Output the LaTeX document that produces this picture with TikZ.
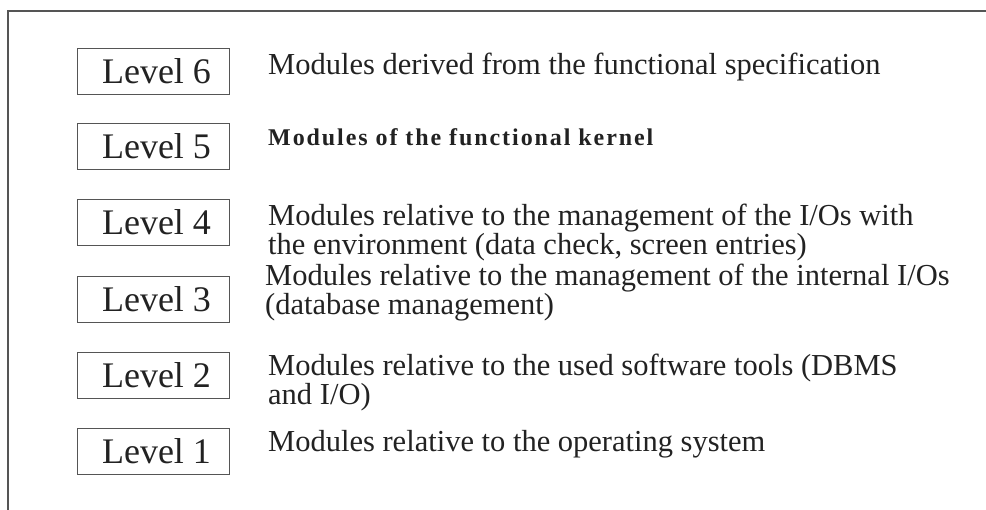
\documentclass[tikz,border=0pt]{standalone}
\usepackage{fontspec}
\setmainfont{Liberation Serif}
\newfontfamily\kernfont[LetterSpace=8]{Liberation Serif Bold}
\definecolor{ink}{HTML}{222222}
\definecolor{rule}{HTML}{555555}
\tikzset{
  lvlbox/.style={draw=rule, line width=0.9pt, minimum width=152pt, minimum height=46pt,
    inner sep=0pt, text=ink, font=\fontsize{36}{40}\selectfont},
  desc/.style={anchor=base west, inner sep=0pt, text=ink,
    font=\fontsize{30.5}{27.5}\selectfont},
  frameline/.style={draw=rule, line width=1.2pt}
}
\begin{document}
\begin{tikzpicture}[x=1pt,y=-1pt]
\useasboundingbox (0,0) rectangle (986,510);
\coordinate (fb) at (8,510);
\coordinate (fc) at (8,11);
\coordinate (fr) at (986,11);
\draw[frameline] (fb) -- (fc) -- (fr);

\node[lvlbox] (l6) at (153,71) {\hspace*{7pt}Level 6};
\node[lvlbox] (l5) at (153,146.5) {\hspace*{7pt}Level 5};
\node[lvlbox] (l4) at (153,222.5) {\hspace*{7pt}Level 4};
\node[lvlbox] (l3) at (153,299.5) {\hspace*{7pt}Level 3};
\node[lvlbox] (l2) at (153,375.5) {\hspace*{7pt}Level 2};
\node[lvlbox] (l1) at (153,451.5) {\hspace*{7pt}Level 1};

\node[desc] (d6) at (268,75) {Modules derived from the functional specification};
\node[desc, font=\fontsize{24}{27}\selectfont] (d5) at (268,146) {\kernfont Modules of the functional kernel};
\node[desc] (d4) at (268,226) {\parbox[t]{700pt}{\raggedright Modules relative to the management of the I/Os with\\the environment (data check, screen entries)}};
\node[desc] (d3) at (265,286) {\parbox[t]{720pt}{\raggedright Modules relative to the management of the internal I/Os\\(database management)}};
\node[desc] (d2) at (268,376) {\parbox[t]{700pt}{\raggedright Modules relative to the used software tools (DBMS\\and I/O)}};
\node[desc] (d1) at (268,452) {Modules relative to the operating system};
\end{tikzpicture}
\end{document}
